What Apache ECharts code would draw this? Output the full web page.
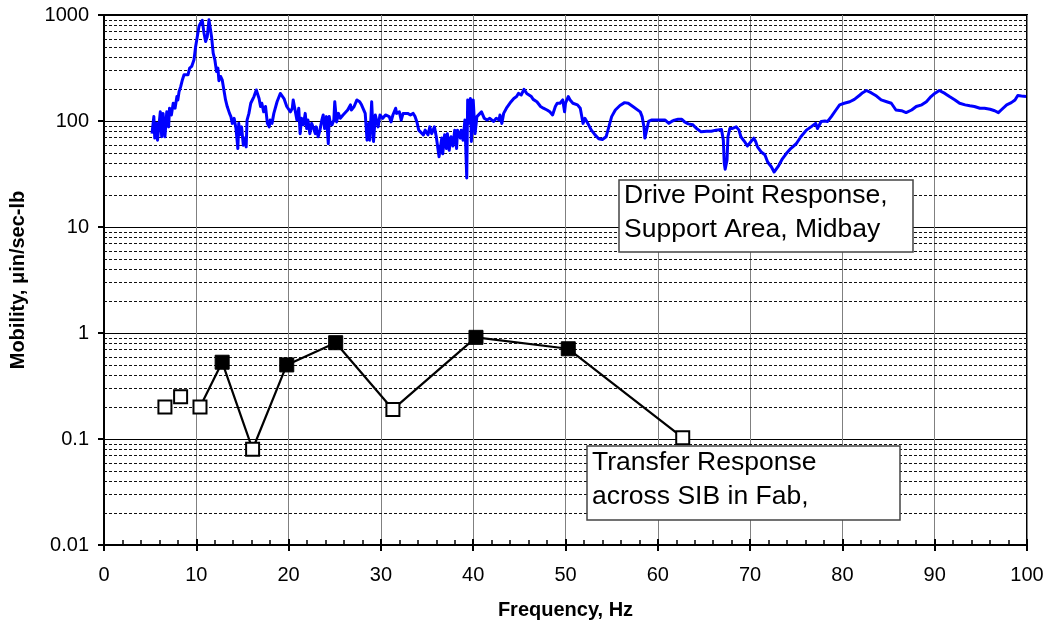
<!DOCTYPE html>
<html>
<head>
<meta charset="utf-8">
<script src="https://cdn.jsdelivr.net/npm/echarts@6/dist/echarts.min.js"></script>
<style>
  html, body { margin: 0; padding: 0; background: #fff; }
  #chart { width: 1048px; height: 628px; }
</style>
</head>
<body>
<div id="chart"></div>
<script>
// Drive point mobility spectrum: [frequency Hz, mobility µin/sec-lb]
const drivePoint = [
  [5.2,76],[5.4,110],[5.5,69],[5.7,95],[5.8,66],[6.1,122],[6.25,71],[6.4,118],[6.6,71],[6.8,122],[7.0,88],[7.1,132],[7.3,114],[7.5,147],[7.7,132],[7.9,170],[8.0,158],
  [8.13,189],[8.31,211],[8.49,244],[8.67,273],[8.85,263],[9.1,273],[9.28,315],[9.5,327],[9.75,378],[9.93,505],[10.11,628],[10.29,780],[10.47,840],[10.65,890],[10.83,676],[11.01,563],[11.19,628],[11.37,900],[11.47,930],[11.65,628],[11.83,437],[12.01,378],[12.19,293],[12.34,315],[12.45,240],[12.63,263],[12.81,244],[12.99,196],[13.17,158],[13.35,137],
  [13.6,118],[13.75,110],[13.9,95],[14.1,106],[14.3,85],[14.5,55],[14.6,95],[14.7,74],[14.9,88],[15.1,59],[15.25,69],[15.4,57],[15.5,102],[15.7,118],[15.9,147],[16.25,170],[16.5,196],[16.8,163],[16.96,137],[17.1,147],[17.3,122],[17.5,137],[17.7,95],[17.9,88],[18.0,102],[18.2,95],[18.4,118],[18.75,152],[19.1,182],[19.5,163],[19.8,137],[20.0,132],[20.2,122],[20.4,132],[20.5,158],[20.7,127],[20.9,102],[21.1,132],[21.25,76],[21.4,106],[21.6,92],[21.8,118],[21.96,85],[22.1,102],[22.3,76],[22.5,95],[22.7,98],[22.9,76],[23.0,88],[23.2,71],[23.4,82],[23.6,102],[23.75,114],[23.9,85],[24.1,110],[24.3,61],[24.4,110],
  [24.5,98],[24.7,92],[24.9,102],[25.0,152],[25.2,98],[25.4,118],[25.6,106],[25.9,114],[26.1,110],[26.4,127],[26.7,142],[26.8,127],[27.1,137],[27.4,158],[27.7,152],[27.9,142],[28.1,147],[28.3,118],[28.5,66],[28.7,95],[28.8,66],[29.0,152],[29.2,64],[29.4,114],[29.6,118],[29.7,88],[29.9,114],[30.2,106],[30.5,114],[30.7,114],[30.9,110],[31.1,98],[31.3,114],[31.6,132],[31.7,118],[32.0,122],[32.2,102],[32.4,118],[32.6,114],[32.9,118],[33.2,114],[33.5,118],[33.7,110],[33.9,98],[34.1,82],[34.3,79],[34.6,74],[34.8,82],[35.1,74],[35.3,88],[35.5,76],[35.8,88],[36.0,71],[36.2,69],[36.3,46],[36.6,69],[36.7,49],[36.9,74],[37.1,55],[37.2,76],[37.4,53],[37.6,71],[37.8,58],[38.0,82],[38.2,55],[38.3,82],[38.6,69],[38.7,82],[38.9,66],[39.1,102],[39.3,29],[39.4,158],[39.5,95],[39.7,163],[39.8,64],[40.0,158],[40.2,76],[40.4,110],[40.6,114],[40.9,122],[41.2,106],[41.5,102],[41.8,106],
  [42.2,99],[42.5,106],[42.8,102],[42.9,114],[43.1,95],[43.3,118],[43.6,132],[43.8,137],[44.1,152],[44.4,163],[44.7,170],[44.9,182],[45.2,176],[45.5,199],[45.8,182],[46.0,176],[46.3,170],[46.5,160],[46.9,152],[47.3,137],[47.6,132],[48.0,127],[48.3,122],[48.6,114],[48.9,137],[49.1,147],[49.4,147],[49.7,158],[49.9,122],[50.0,147],[50.3,170],[50.5,158],[50.8,147],[51.0,152],[51.3,142],[51.6,132],[51.8,106],[51.9,95],[52.1,106],[52.5,92],[52.8,82],[53.2,74],[53.6,68],[54.0,67],[54.4,71],[54.6,82],[55.0,110],[55.4,127],[55.9,140],[56.4,149],[56.8,147],[57.3,137],[58.1,122],[58.3,110],[58.5,88],[58.6,69],[58.8,70],[59.0,99],[59.3,102],[59.9,102],[60.2,102],[60.8,102],[61.0,104],[61.2,95],[61.5,99],[61.8,102],[62.2,104],[62.6,104],[62.9,98],[63.3,94],[63.8,92],[64.2,85],[64.7,79],[65.3,80],[65.8,80],[66.3,82],[66.9,83],[67.1,66],[67.2,40],[67.3,35],[67.5,43],[67.6,71],[67.8,85],
  [68.1,85],[68.5,88],[68.8,82],[69.0,71],[69.4,64],[69.7,58],[70.1,64],[70.4,69],[70.6,64],[70.8,57],[71.2,51],[71.6,48],[71.9,41],[72.3,37],[72.6,33],[72.8,34],[73.1,38],[73.5,44],[73.9,49],[74.4,55],[75.0,61],[75.5,71],[76.1,82],[76.6,88],[77.1,95],[77.3,85],[77.7,99],[78.1,100],[78.4,99],[78.8,110],[79.3,127],[79.7,142],[80.2,147],[80.8,152],[81.3,160],[81.9,176],[82.2,185],[82.6,194],[83.1,185],[83.7,172],[84.2,158],[84.8,152],[85.3,147],[85.8,127],[86.4,125],[86.9,120],[87.5,127],[88.0,137],[88.6,142],[89.1,152],[89.6,170],[90.0,182],[90.5,194],[91.1,182],[91.6,170],[92.2,158],[92.7,147],[93.3,142],[93.8,139],[94.3,137],[94.9,132],[95.4,132],[96.0,129],[96.5,125],[96.9,120],[97.2,127],[97.8,142],[98.3,149],[98.7,158],[99.0,174],[99.4,172],[99.9,170]
];

// Transfer response across the SIB, one value per one-third-octave band
const transferFreq   = [6.6, 8.3, 10.4, 12.8, 16.1, 19.8, 25.1, 31.3, 40.3, 50.3, 62.7];
const transferMob    = [0.20, 0.25, 0.20, 0.53, 0.08, 0.50, 0.81, 0.19, 0.91, 0.71, 0.103];
const transferFilled = [false, false, false, true, false, true, true, false, true, true, false];
const transferLineStart = 2; // first band joined by the connecting line

// Axis structure
const xTicks = [0, 10, 20, 30, 40, 50, 60, 70, 80, 90, 100];
const yDecades = [0.01, 0.1, 1, 10, 100, 1000];
const yMinorMultipliers = [2, 3, 4, 5, 6, 7, 8, 9];

const FONT = '"Liberation Sans", Arial, Helvetica, sans-serif';
const X_MIN = xTicks[0];
const X_MAX = xTicks[xTicks.length - 1];

const minorLevels = [];
yDecades.slice(0, -1).forEach(d => {
  yMinorMultipliers.forEach(m => minorLevels.push(+(d * m).toPrecision(3)));
});

const transferPairs = transferFreq.map((f, i) => [f, transferMob[i]]);
const openMarks = transferPairs.filter((p, i) => !transferFilled[i]);
const filledMarks = transferPairs.filter((p, i) => transferFilled[i]);
const transferLine = transferPairs.slice(transferLineStart);

// dashed horizontal line across the plot at each minor log level
function renderMinorGrid(params, api) {
  const level = api.value(1);
  const a = api.coord([X_MIN, level]);
  const b = api.coord([X_MAX, level]);
  const y = Math.round(a[1]) + 0.5;
  return {
    type: 'line',
    shape: { x1: a[0], y1: y, x2: b[0], y2: y },
    style: { stroke: '#111', lineWidth: 1, lineDash: [3, 2] },
    silent: true
  };
}

const chart = echarts.init(document.getElementById('chart'), null, { renderer: 'canvas' });

const option = {
  animation: false,
  backgroundColor: '#fff',
  grid: {
    left: 102, right: 21, top: 15, bottom: 83,
    show: true, borderColor: '#000', borderWidth: 2, backgroundColor: 'transparent'
  },
  xAxis: [
    {
      type: 'value', position: 'bottom',
      min: X_MIN, max: X_MAX, interval: 10,
      axisLine: { show: true, onZero: false, lineStyle: { color: '#000', width: 2 } },
      axisTick: { show: true, inside: true, length: 6, lineStyle: { color: '#000', width: 2 } },
      minorTick: { show: true, splitNumber: 5, length: 5, lineStyle: { color: '#000', width: 1.5 } },
      axisLabel: { color: '#000', fontSize: 20, fontFamily: FONT, margin: 20 },
      splitLine: { show: true, lineStyle: { color: '#808080', width: 1 } },
      name: 'Frequency, Hz', nameLocation: 'middle', nameGap: 55,
      nameTextStyle: { color: '#000', fontSize: 20, fontWeight: 'bold', fontFamily: FONT }
    },
    {
      type: 'value', position: 'bottom',
      min: X_MIN, max: X_MAX, interval: 10,
      axisLine: { show: false },
      axisTick: { show: true, inside: false, length: 6, lineStyle: { color: '#000', width: 2 } },
      axisLabel: { show: false },
      splitLine: { show: false }
    }
  ],
  yAxis: {
    type: 'log', logBase: 10,
    min: yDecades[0], max: yDecades[yDecades.length - 1],
    axisLine: { show: true, onZero: false, lineStyle: { color: '#000', width: 2 } },
    axisTick: { show: true, inside: false, length: 6, lineStyle: { color: '#000', width: 2 } },
    axisLabel: {
      color: '#000', fontSize: 20, fontFamily: FONT, margin: 15,
      formatter: v => String(+Number(v).toPrecision(6))
    },
    splitLine: { show: true, lineStyle: { color: '#000', width: 1 } },
    name: 'Mobility, \u03bcin/sec-lb', nameLocation: 'middle', nameGap: 76,
    nameTextStyle: { color: '#000', fontSize: 20, fontWeight: 'bold', fontFamily: FONT }
  },
  series: [
    {
      name: 'minor grid', type: 'custom', silent: true, z: 1,
      data: minorLevels.map(v => [X_MIN, v]),
      renderItem: renderMinorGrid,
      clip: true
    },
    {
      name: 'Drive Point Response', type: 'line', data: drivePoint,
      symbol: 'none', z: 3,
      lineStyle: { color: '#0000ff', width: 3, join: 'round' }
    },
    {
      name: 'Transfer Response line', type: 'line', data: transferLine,
      symbol: 'none', z: 4,
      lineStyle: { color: '#000', width: 2.2 }
    },
    {
      name: 'Transfer Response open', type: 'scatter', data: openMarks,
      symbol: 'rect', symbolSize: 13, z: 5,
      itemStyle: { color: '#fff', borderColor: '#000', borderWidth: 2, opacity: 1 }
    },
    {
      name: 'Transfer Response filled', type: 'scatter', data: filledMarks,
      symbol: 'rect', symbolSize: 14, z: 5,
      itemStyle: { color: '#000', borderColor: '#000', borderWidth: 1, opacity: 1 }
    }
  ],
  graphic: {
    elements: [
      { type: 'rect', z: 100, shape: { x: 619, y: 180, width: 294, height: 72 },
        style: { fill: '#fff', stroke: '#444', lineWidth: 1.5 } },
      { type: 'text', z: 101, x: 624, y: 179,
        style: { text: 'Drive Point Response,\nSupport Area, Midbay', fill: '#000',
                 font: '26.5px ' + FONT, lineHeight: 34, verticalAlign: 'top' } },
      { type: 'rect', z: 100, shape: { x: 587, y: 446, width: 313, height: 74 },
        style: { fill: '#fff', stroke: '#444', lineWidth: 1.5 } },
      { type: 'text', z: 101, x: 592, y: 446,
        style: { text: 'Transfer Response\nacross SIB in Fab,', fill: '#000',
                 font: '26.5px ' + FONT, lineHeight: 34, verticalAlign: 'top' } }
    ]
  }
};

chart.setOption(option);
</script>
</body>
</html>
